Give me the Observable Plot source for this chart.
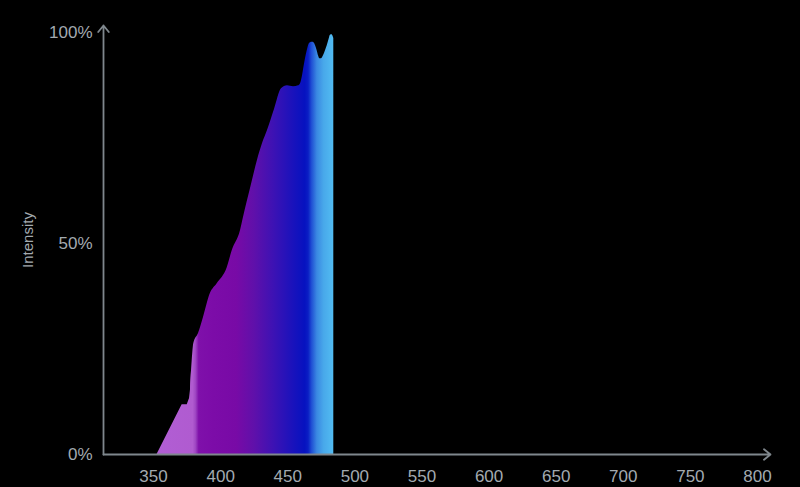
<!DOCTYPE html>
<html>
<head>
<meta charset="utf-8">
<script src="https://cdn.jsdelivr.net/npm/d3@7"></script>
<script src="https://cdn.jsdelivr.net/npm/@observablehq/plot@0.6"></script>
<style>
  html, body { margin: 0; padding: 0; background: #000; }
  #chart { width: 800px; height: 487px; }
</style>
</head>
<body>
<div id="chart"></div>
<script>
// Spectrum (wavelength in nm, relative intensity in %)
const wavelengths = [352.6, 371.3, 375.1, 376.8, 377.5, 378.3, 378.8, 380.0, 383.5, 387.2,
  392.4, 397.4, 404.9, 408.6, 414.8, 417.0, 422.2, 427.4, 431.2, 434.9,
  440.1, 445.3, 449.8, 454.3, 458.0, 459.5, 461.0, 461.9, 463.2, 464.5,
  465.8, 466.9, 468.4, 469.5, 470.7, 471.9, 472.9, 473.9, 475.1, 476.6,
  478.1, 479.4, 480.7, 481.8, 482.9, 483.8, 484.3];
const intensity = [0, 11.8, 11.8, 13.3, 15.2, 19.9, 22.3, 26.3, 28.7, 32.5,
  38.2, 40.5, 44.3, 48.3, 53.1, 56.2, 63.0, 69.7, 73.7, 76.8,
  81.8, 86.7, 87.4, 87.2, 87.4, 87.9, 89.8, 91.5, 93.8, 95.7,
  97.2, 97.6, 97.7, 97.6, 96.9, 95.7, 94.5, 93.8, 93.8, 94.5,
  95.7, 96.9, 98.3, 99.4, 99.5, 99.1, 98.6];

const xTicks = [350, 400, 450, 500, 550, 600, 650, 700, 750, 800];
const yTicks = [0, 50, 100];
const yLabel = "Intensity";

// Colour of light along the wavelength axis (fill gradient)
const gradientWl = [352, 379.5, 381.5, 384, 395, 412, 425, 440, 455, 463, 465.5, 468, 472, 477, 484.3];
const gradientColors = ["#b15ed4", "#b05bd0", "#a048c4", "#7f10aa", "#7c0ca8", "#780aa6", "#6010aa",
  "#3c12b4", "#1812bc", "#0612c0", "#0a1ec4", "#1f4ed4", "#3a88e2", "#48a8ea", "#52bcf2"];

const spectrum = wavelengths.map((w, i) => ({wl: w, v: intensity[i]}));
// the UV tail is drawn with straight segments, the rest smoothed
const tail = spectrum.filter(d => d.wl <= 378.3);
const body = spectrum.filter(d => d.wl >= 377.5);

const xDomain = [312.7, 809.7];
const yDomain = [0, 101.7];
const axisColor = "#7f878d";

const plot = Plot.plot({
  width: 800,
  height: 487,
  marginLeft: 103,
  marginRight: 30,
  marginTop: 25,
  marginBottom: 33,
  style: {background: "#000", color: "#a3aab0", fontSize: "17px", fontFamily: "'Liberation Sans', Arial, sans-serif"},
  x: {domain: xDomain, ticks: xTicks, tickSize: 0, tickPadding: 15, label: null},
  y: {domain: yDomain, ticks: yTicks, tickSize: 0, tickPadding: 11, tickFormat: d => d + "%", label: null},
  marks: [
    Plot.areaY(tail, {x: "wl", y: "v", curve: "linear", fill: "url(#specgrad)"}),
    Plot.areaY(body, {x: "wl", y: "v", curve: "monotone-x", fill: "url(#specgrad)"}),
    Plot.arrow([{x1: xDomain[0], y1: 0, x2: xDomain[0], y2: yDomain[1]}],
      {x1: "x1", y1: "y1", x2: "x2", y2: "y2", stroke: axisColor, strokeWidth: 1.8, headLength: 7, headAngle: 78}),
    Plot.arrow([{x1: xDomain[0], y1: 0, x2: xDomain[1], y2: 0}],
      {x1: "x1", y1: "y1", x2: "x2", y2: "y2", stroke: axisColor, strokeWidth: 1.8, headLength: 7, headAngle: 78}),
    Plot.text([yLabel], {frameAnchor: "left", textAnchor: "middle", rotate: -90, dx: -75, dy: 0, fill: "#a3aab0", fontSize: 15})
  ]
});

// Gradient defined in wavelength units, mapped through the plot's x scale
const xs = plot.scale("x");
const xScale = d3.scaleLinear().domain(xs.domain).range(xs.range);
const ns = "http://www.w3.org/2000/svg";
const defs = document.createElementNS(ns, "defs");
const grad = document.createElementNS(ns, "linearGradient");
grad.setAttribute("id", "specgrad");
grad.setAttribute("gradientUnits", "userSpaceOnUse");
const gx1 = xScale(gradientWl[0]), gx2 = xScale(gradientWl[gradientWl.length - 1]);
grad.setAttribute("x1", gx1); grad.setAttribute("x2", gx2);
grad.setAttribute("y1", 0); grad.setAttribute("y2", 0);
gradientWl.forEach((w, i) => {
  const s = document.createElementNS(ns, "stop");
  s.setAttribute("offset", (xScale(w) - gx1) / (gx2 - gx1));
  s.setAttribute("stop-color", gradientColors[i]);
  grad.appendChild(s);
});
defs.appendChild(grad);
plot.insertBefore(defs, plot.firstChild);

document.getElementById("chart").appendChild(plot);
</script>
</body>
</html>
